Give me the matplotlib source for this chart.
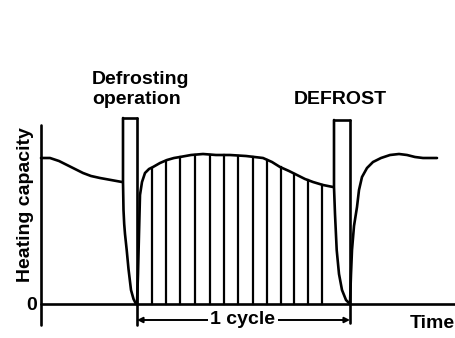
import matplotlib
matplotlib.use("Agg")
import matplotlib.pyplot as plt
import numpy as np

# heating capacity vs time, arbitrary units (0 = y-axis / zero line)
pre_t   = [0, 9, 18, 26, 34, 42, 50, 59, 70, 81]
pre_cap = [146, 146, 143, 139, 135, 131, 128, 126, 124, 122]

# first defrost pulse (left edge falls to zero, right edge marks cycle start)
bar1_left, bar1_right, bar1_top = 82, 96, 186
fall1_t   = [82, 82, 82.5, 83.2, 84, 85.7, 87.5, 90, 92.5, 95]
fall1_cap = [186, 122, 94, 80, 70, 54, 35, 14, 5, 0]

# heating run between the two defrosts
run_t   = [96, 97, 98, 99, 101, 104, 108, 112, 119, 126, 133, 139, 150, 162,
           175, 189, 205, 222, 231, 239, 248, 256, 264, 272, 282, 292]
run_cap = [0, 30, 70, 109, 122, 131, 135, 137, 141, 144, 146, 147, 149, 150,
           149, 149, 148, 146, 142, 137, 133, 129, 125, 122, 119, 117]

# second defrost pulse
bar2_left, bar2_right, bar2_top = 293, 309, 184
fall2_t   = [293, 293, 294, 295.7, 298, 301, 305, 309]
fall2_cap = [184, 117, 90, 54, 30, 14, 4, 0]

# recovery after the second defrost
post_t   = [309, 310, 311, 313, 316, 318, 321, 326, 332, 340, 349, 358, 366, 374, 382, 396]
post_cap = [0, 30, 54, 78, 97, 114, 127, 136, 142, 146, 149, 150, 149, 147, 146, 146]

# vertical hatching under the heating run
hatch_t = [110.7, 124.7, 139, 154, 169, 183, 197.3, 211.7, 225.7, 240, 253, 267.3, 280.7]

fig = plt.figure(figsize=(4.56, 3.38), dpi=100)
ax = fig.add_axes([0, 0, 1, 1])
ax.set_xlim(-41, 415)
ax.set_ylim(-34, 304)
ax.axis("off")

lw = 1.9
k = dict(color="black", lw=lw, solid_capstyle="round", solid_joinstyle="round")

# axes
ax.plot([0, 0], [-21, 179], **k)
ax.plot([0, 415], [0, 0], **k)

# capacity curve
ax.plot(pre_t, pre_cap, **k)
ax.plot(fall1_t, fall1_cap, **k)
ax.plot([bar1_left, bar1_right], [bar1_top, bar1_top], **k)
ax.plot([bar1_right, bar1_right], [bar1_top, -21], **k)
ax.plot(run_t, run_cap, **k)
ax.plot(fall2_t, fall2_cap, **k)
ax.plot([bar2_left, bar2_right], [bar2_top, bar2_top], **k)
ax.plot([bar2_right, bar2_right], [bar2_top, -19], **k)
ax.plot(post_t, post_cap, **k)

# hatch lines reach up to the curve
for t in hatch_t:
    top = np.interp(t, run_t, run_cap)
    ax.plot([t, t], [0, top], color="black", lw=1.6)

font = dict(family="Liberation Sans", fontweight="bold", fontsize=14, color="black")

# 1 cycle span
ax.annotate("", xy=(bar1_right, -16), xytext=(bar2_right, -16),
            arrowprops=dict(arrowstyle="<|-|>", color="black", lw=1.4,
                            mutation_scale=8, shrinkA=0, shrinkB=0))
ax.text(202, -16, "1 cycle", ha="center", va="center",
        bbox=dict(facecolor="white", edgecolor="none", pad=1.5), **font)

ax.text(51, 224, "Defrosting", ha="left", va="center", **font)
ax.text(51, 205, "operation", ha="left", va="center", **font)
ax.text(299, 204, "DEFROST", ha="center", va="center", **font)
ax.text(369, -19, "Time", ha="left", va="center", **font)
ax.text(-9, -1, "0", ha="center", va="center", **font)
ax.text(-15, 99, "Heating capacity", rotation=90, ha="center", va="center", **font)

fig.savefig("out.png", dpi=100)
